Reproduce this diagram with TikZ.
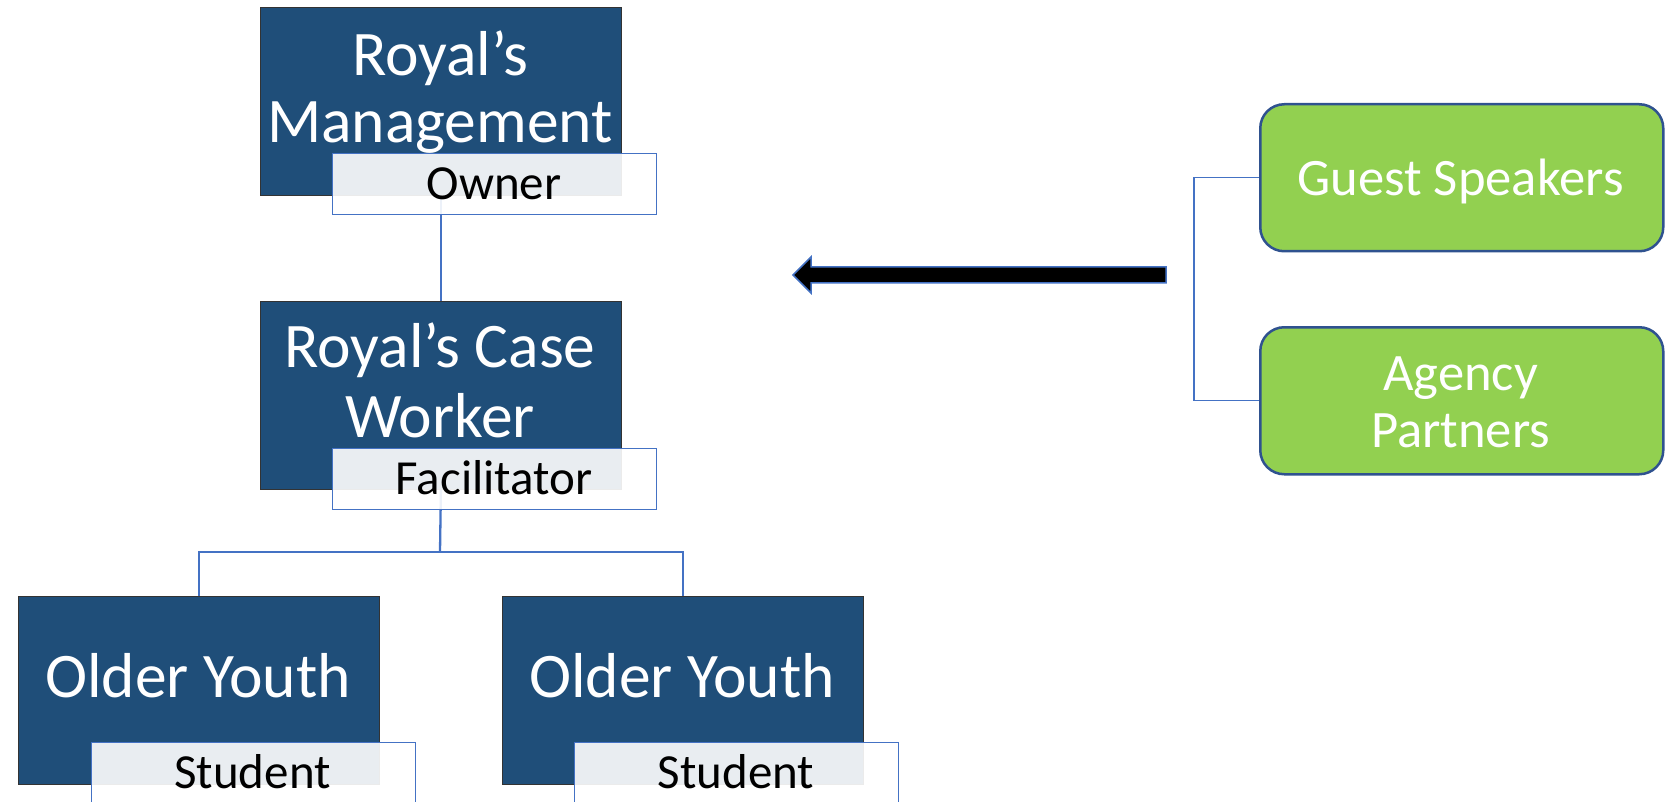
\documentclass[tikz,border=0pt]{standalone}
\usepackage{fontspec}
\setmainfont{Carlito}
\usetikzlibrary{calc}
\definecolor{darkbox}{HTML}{1F4E79}
\definecolor{linkblue}{HTML}{4472C4}
\definecolor{greenbox}{HTML}{92D050}
\definecolor{greenedge}{HTML}{2F528F}
\tikzset{
  rolebox/.style={draw=black!80, line width=0.8pt, fill=darkbox, anchor=north west, inner sep=0, minimum width=361pt, minimum height=188pt},
  tagbox/.style={draw=linkblue, line width=1.2pt, fill=white, fill opacity=0.9, text opacity=1, anchor=north west, inner sep=0, minimum width=324pt, minimum height=61pt},
  partnerbox/.style={draw=greenedge, line width=2.5pt, fill=greenbox, rounded corners=24pt, anchor=north west, inner sep=0, minimum width=403pt, minimum height=147pt},
  bigtext/.style={anchor=base, inner sep=0, text=white, font=\fontsize{63.5}{69}\selectfont},
  tagtext/.style={anchor=base, inner sep=0, text=black, font=\fontsize{49}{55}\selectfont},
  greentext/.style={anchor=base, inner sep=0, text=white, font=\fontsize{52.6}{56}\selectfont},
  orgline/.style={draw=linkblue, line width=2.3pt},
  thinline/.style={draw=linkblue, line width=1.1pt},
  blockarrow/.style={fill=black, draw=linkblue, line width=1.5pt, line join=miter}
}
\begin{document}
\begin{tikzpicture}[x=1pt,y=-1pt]
\useasboundingbox (0,0) rectangle (1670,802);
\coordinate (j) at (440,552);
\node[rolebox] (m) at (260,7) {};
\node[rolebox] (cw) at (260,301) {};
\node[rolebox] (oy1) at (18,596) {};
\node[rolebox] (oy2) at (502,596) {};
\draw[orgline] (m.south) -- (cw.north);
\draw[orgline] (cw.south) -- (j);
\draw[orgline] (oy1.north) |- (j) -| (oy2.north);
% texts in dark boxes
\node[bigtext] (t1a) at (440,76) {Royal’s};
\node[bigtext] (t1b) at (440,143) {Management};
\node[bigtext] (t2a) at (440,367) {Royal’s Case};
\node[bigtext] (t2b) at (440,437) {Worker};
\node[bigtext] (t3) at (198,697) {Older Youth};
\node[bigtext] (t4) at (682,697) {Older Youth};
% tag boxes
\node[tagbox] (l1) at (332,153) {};
\node[tagbox] (l2) at (332,448) {};
\node[tagbox] (l3) at (91,742) {};
\node[tagbox] (l4) at (574,742) {};
\node[tagtext] (s1) at (494,200) {Owner};
\node[tagtext] (s2) at (494,494) {Facilitator};
\node[tagtext] (s3) at (252.5,788) {Student};
\node[tagtext] (s4) at (736,788) {Student};
% partner boxes
\node[partnerbox] (gs) at (1259,103) {};
\node[partnerbox] (ap) at (1259,326) {};
\node[greentext] (g1) at (1460.5,196) {Guest Speakers};
\node[greentext] (g2) at (1460.5,390) {Agency};
\node[greentext] (g3) at (1460.5,447) {Partners};
\coordinate (b) at (1194,176);
\draw[thinline] (gs.west) -- (gs.west -| b) |- (ap.west);
% block arrow
\coordinate (atip) at (793,275);
\coordinate (atail) at (1166,275);
\draw[blockarrow] (atip) -- ++(18,-18) -- ++(0,10) -- ($(atail)+(0,-8)$) -- ($(atail)+(0,8)$) -- ($(atip)+(18,8)$) -- ++(0,10) -- cycle;
\end{tikzpicture}
\end{document}
